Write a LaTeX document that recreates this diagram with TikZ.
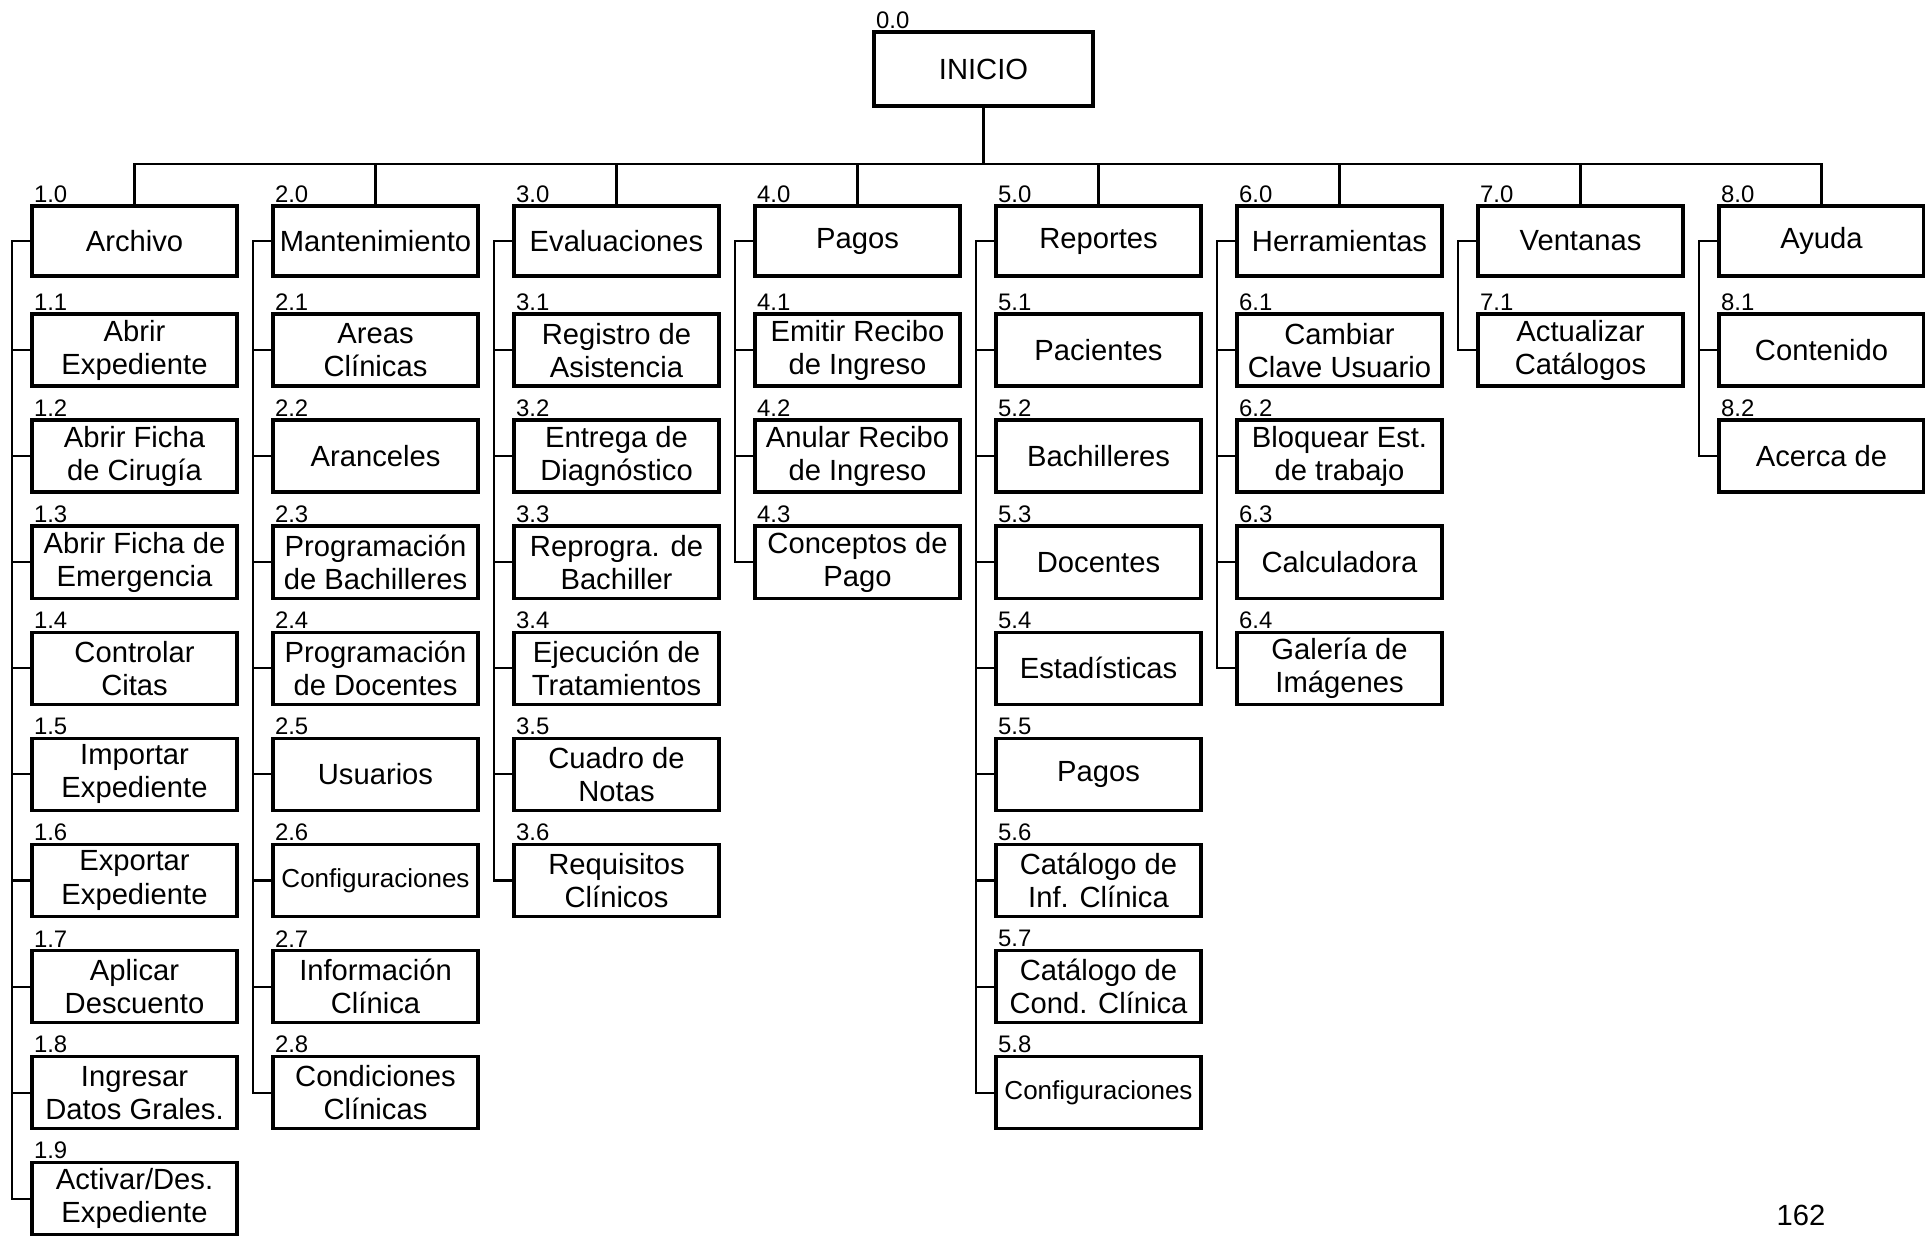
\documentclass[tikz,border=0pt]{standalone}
\usepackage{fontspec}
\setmainfont{Liberation Sans}
\usetikzlibrary{positioning}

\newcommand{\wbsfont}{\fontsize{8.3}{9.4}\selectfont}
\newcommand{\cfgfont}{\fontsize{7.4}{8.5}\selectfont}

% one column of the menu: #1 = column number, #2 = its options
\newcommand{\branch}[2]{%
  \foreach \txt [count=\i] in {#2} {
    \pgfmathtruncatemacro{\j}{\i-1}
    \pgfmathsetmacro{\gap}{ifthenelse(\i==1,0.345,0.305)}
    \node[item, below=\gap cm of m#1-\j,
          label={[num]north west:#1.\i}] (m#1-\i) {\txt};
    \draw[link] (m#1-\i.west) -- ++(-0.18cm,0) |- (m#1-\j.west);
  }%
}

\begin{document}
\begin{tikzpicture}[x=0.01cm, y=-0.01cm,
    head/.style={draw, line width=1pt, minimum width=2.05cm, minimum height=0.70cm,
                 inner sep=1pt, align=center, font=\wbsfont},
    item/.style={head, minimum height=0.72cm},
    num/.style={anchor=south west, inner sep=0.3pt, xshift=0.6pt, font=\fontsize{6.8}{7.5}\selectfont},
    link/.style={line width=0.6pt}]
  \useasboundingbox (0,0) rectangle (1925,1235);

  % root
  \node[head, minimum width=2.19cm, minimum height=0.74cm,
        label={[num]north west:0.0}] (inicio) at (983.5,69) {INICIO};
  \path (inicio.south) ++(0,56) coordinate (bus);
  \draw[link] (inicio) -- (bus);

  % main menu
  \foreach \name [count=\k] in {Archivo,Mantenimiento,Evaluaciones,Pagos,
                                Reportes,Herramientas,Ventanas,Ayuda} {
    \node[head, alias=m\k-0, label={[num]north west:\k.0}] (m\k)
      at ({134.5+241*(\k-1)},241) {\name};
    \draw[link] (m\k.north) |- (bus);
  }

  % sub menus
  \branch{1}{{Abrir\\Expediente},{Abrir Ficha\\de Cirugía},{Abrir Ficha de\\Emergencia},
             {Controlar\\Citas},{Importar\\Expediente},{Exportar\\Expediente},
             {Aplicar\\Descuento},{Ingresar\\Datos Grales.},{Activar/Des.\\Expediente}}
  \branch{2}{{Areas\\Clínicas},{Aranceles},{Programación\\de Bachilleres},
             {Programación\\de Docentes},{Usuarios},{\cfgfont Configuraciones},
             {Información\\Clínica},{Condiciones\\Clínicas}}
  \branch{3}{{Registro de\\Asistencia},{Entrega de\\Diagnóstico},{Reprogra. de\\Bachiller},
             {Ejecución de\\Tratamientos},{Cuadro de\\Notas},{Requisitos\\Clínicos}}
  \branch{4}{{Emitir Recibo\\de Ingreso},{Anular Recibo\\de Ingreso},{Conceptos de\\Pago}}
  \branch{5}{{Pacientes},{Bachilleres},{Docentes},{Estadísticas},{Pagos},
             {Catálogo de\\Inf. Clínica},{Catálogo de\\Cond. Clínica},{\cfgfont Configuraciones}}
  \branch{6}{{Cambiar\\Clave Usuario},{Bloquear Est.\\de trabajo},{Calculadora},
             {Galería de\\Imágenes}}
  \branch{7}{{Actualizar\\Catálogos}}
  \branch{8}{{Contenido},{Acerca de}}

  % page number
  \node[font=\wbsfont] (pagina) at (1801,1215) {162};
\end{tikzpicture}
\end{document}
